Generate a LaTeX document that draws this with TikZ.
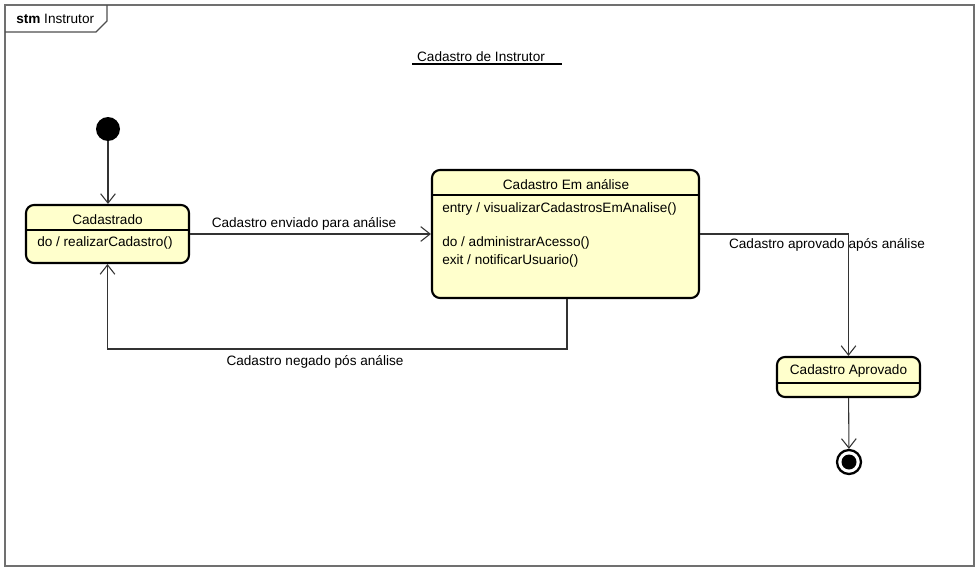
\documentclass[tikz,border=0pt]{standalone}
\usepackage{fontspec}
\setmainfont{Liberation Sans}
\usetikzlibrary{arrows.meta,calc}
\definecolor{stfill}{HTML}{FFFFCC}
\definecolor{framec}{HTML}{707070}
\tikzset{
  statebox/.style={draw=black, line width=1.6pt, fill=stfill, rounded corners=6pt, inner sep=0pt},
  tr/.style={draw=black!80, line width=0.8pt, -{Straight Barb[length=7pt,width=11pt,line width=0.8pt]}},
  lbl/.style={inner sep=0pt, font=\fontsize{10.2}{12}\selectfont},
}
\begin{document}
\begin{tikzpicture}[x=0.75pt,y=-0.75pt]
\useasboundingbox (0,0) rectangle (979,571);
% frame
\draw[framec, line width=1pt] (5,5) rectangle (974,566);
\draw[framec!70!black, line width=1pt] (5,32) -- (96,32) -- (107,21) -- (107,5);
\node[lbl, anchor=west] (ttl) at (16,18.5) {\textbf{stm} Instrutor};
% diagram title
\node[lbl] (dtitle) at (481,57) {Cadastro de Instrutor};
\draw[line width=0.8pt] (412,64) -- (562,64);
% initial state
\node[circle, fill=black, minimum size=24*0.75pt, inner sep=0pt] (init) at (108,129) {};
% Cadastrado
\node[statebox, minimum width=163*0.75pt, minimum height=58*0.75pt] (cad) at (107.5,234) {};
\draw[line width=0.8pt] (cad.west |- 0,230) -- (cad.east |- 0,230);
\node[lbl] (cadn) at (107.5,219.5) {Cadastrado};
\node[lbl, anchor=west] (cadd) at (37,243) {do / realizarCadastro()};
% Em analise
\node[statebox, minimum width=267*0.75pt, minimum height=128*0.75pt] (ana) at (565.5,234) {};
\draw[line width=0.8pt] (ana.west |- 0,195) -- (ana.east |- 0,195);
\node[lbl] (anan) at (566,185) {Cadastro Em análise};
\node[lbl, anchor=west] (ana1) at (442,209) {entry / visualizarCadastrosEmAnalise()};
\node[lbl, anchor=west] (ana2) at (442,243) {do / administrarAcesso()};
\node[lbl, anchor=west] (ana3) at (442,261) {exit / notificarUsuario()};
% Aprovado
\node[statebox, minimum width=143*0.75pt, minimum height=40*0.75pt] (apr) at (848.5,377) {};
\draw[line width=0.8pt] (apr.west |- 0,383) -- (apr.east |- 0,383);
\node[lbl] (aprn) at (848.5,371) {Cadastro Aprovado};
% final state
\node[circle, draw=black, line width=1.7pt, fill=white, minimum size=24*0.75pt, inner sep=0pt] (fin) at (849,462) {};
\fill[black] (fin.center) circle (7.5*0.75pt);
% transitions
\draw[tr] (init) -- (init |- cad.north);
\draw[tr] (cad) -- (ana);
\node[lbl] (l1) at (304,224) {Cadastro enviado para análise};
\draw[tr] (ana.east) -| (apr.north);
\node[lbl] (l2) at (827,245) {Cadastro aprovado após análise};
\coordinate (n1) at (567,349);
\draw[tr] (ana.south -| n1) |- (cad.south |- n1) -- (cad.south);
\node[lbl] (l3) at (315,362) {Cadastro negado pós análise};
\draw[tr] (apr) -- (fin);
\end{tikzpicture}
\end{document}
